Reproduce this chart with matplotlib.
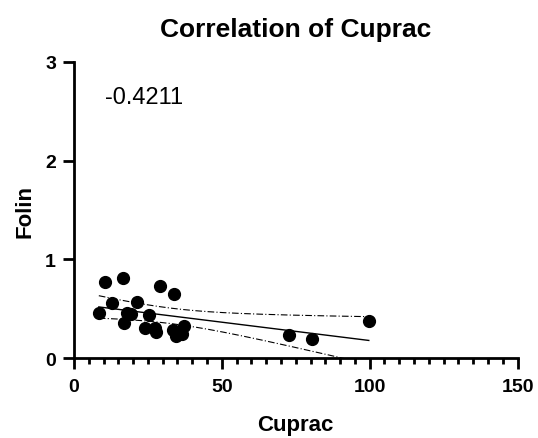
import numpy as np
import matplotlib.pyplot as plt

plt.rcParams['font.family'] = ['Liberation Sans', 'DejaVu Sans']

# data
cuprac = [10.5, 16.7, 29.0, 33.8, 12.7, 21.2, 8.4, 17.8, 19.2, 25.4, 17.0,
          24.0, 27.4, 27.9, 33.5, 34.5, 36.6, 37.2, 72.6, 80.6, 99.7]
folin = [0.77, 0.81, 0.73, 0.645, 0.56, 0.57, 0.46, 0.46, 0.45, 0.44, 0.355,
         0.31, 0.31, 0.26, 0.28, 0.22, 0.24, 0.33, 0.23, 0.19, 0.375]
r_text = '-0.4211'

x = np.array(cuprac)
y = np.array(folin)
n = len(x)

# linear fit and 95% confidence band
slope, intercept = np.polyfit(x, y, 1)
xs = np.linspace(x.min(), x.max(), 200)
ys = slope * xs + intercept
resid = y - (slope * x + intercept)
s = np.sqrt(np.sum(resid**2) / (n - 2))
t = 2.093  # t(0.975, df=19)
se = s * np.sqrt(1 / n + (xs - x.mean())**2 / np.sum((x - x.mean())**2))

fig = plt.figure(figsize=(5.38, 4.39), dpi=100)
ax = fig.add_axes([0.1375, 0.182, 0.8245, 0.6745])

ax.plot(x, y, 'o', color='black', markersize=8.5, zorder=3, clip_on=False)
ax.plot(xs, ys, color='black', lw=1)
ax.plot(xs, ys + t * se, color='black', lw=0.8, dashes=(6, 2, 1, 2))
ax.plot(xs, ys - t * se, color='black', lw=0.8, dashes=(6, 2, 1, 2))

ax.set_xlim(0, 150)
ax.set_ylim(0, 3)
ax.set_xticks([0, 50, 100, 150])
ax.set_xticks(np.arange(0, 151, 5), minor=True)
ax.set_yticks([0, 1, 2, 3])

for sp in ['top', 'right']:
    ax.spines[sp].set_visible(False)
for sp in ['left', 'bottom']:
    ax.spines[sp].set_linewidth(2)

ax.tick_params(axis='both', which='major', direction='out', length=8, width=2,
               labelsize=14)
ax.tick_params(axis='x', which='major', pad=6)
ax.tick_params(axis='y', which='major', pad=5)
ax.tick_params(axis='x', which='minor', direction='out', length=4.5, width=2)
for lab in ax.get_xticklabels() + ax.get_yticklabels():
    lab.set_fontweight('bold')

ax.text(10.5, 2.65, r_text, fontsize=17, va='center')

ax.set_xlabel('Cuprac', fontsize=16, fontweight='bold', labelpad=14)
ax.set_ylabel('Folin', fontsize=16, fontweight='bold', labelpad=7)
ax.set_title('Correlation of Cuprac', fontsize=19, fontweight='bold', pad=19)

fig.savefig('out.png', dpi=100)
